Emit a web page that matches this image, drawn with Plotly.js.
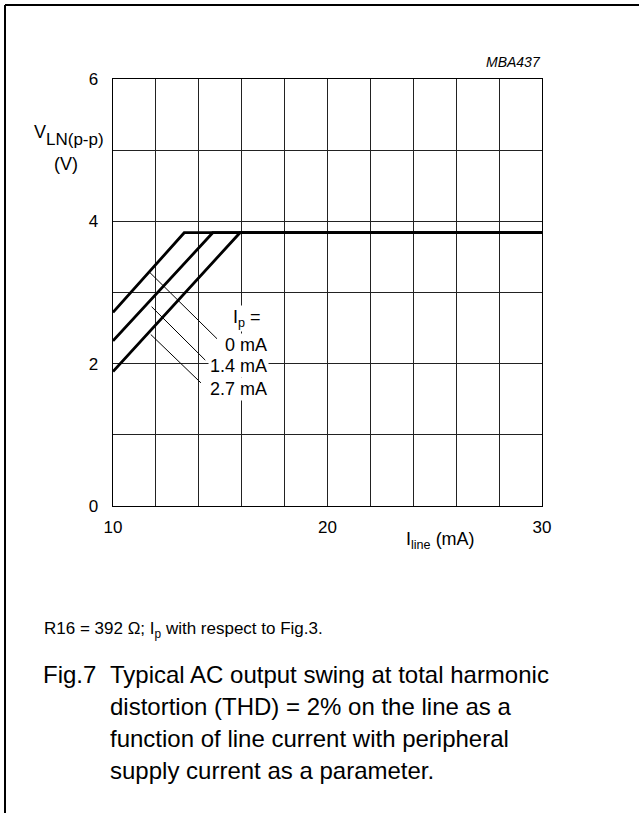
<!DOCTYPE html>
<html>
<head>
<meta charset="utf-8">
<script src="https://cdn.plot.ly/plotly-3.0.1.min.js"></script>
<style>
html,body{margin:0;padding:0;background:#fff;}
#chart{width:639px;height:813px;}
</style>
</head>
<body>
<div id="chart"></div>
<script>
// Data (I_line in mA, V_LN(p-p) in V)
const seriesNames = ["0 mA", "1.4 mA", "2.7 mA"];
const iLine0 = [10, 13.32, 30];
const vln0   = [2.72, 3.84, 3.84];
const iLine1 = [10, 14.65, 30];
const vln1   = [2.32, 3.84, 3.84];
const iLine2 = [10, 15.92, 30];
const vln2   = [1.89, 3.84, 3.84];
const xTickVals = [10, 20, 30];
const xTickText = ["10", "20", "30"];
const yTickVals = [0, 2, 4, 6];
const yTickText = ["0", "2", "4", "6"];

const FONT = "Liberation Sans, Arial, Helvetica, sans-serif";
const INK = "#000";

// layout geometry helpers (pixel -> paper)
const L = 113, R = 542, T = 79, B = 506, W = 639, H = 813;
const px = v => (v - L) / (R - L);
const py = v => (B - v) / (B - T);

const mk = (x, y, name) => ({x: x, y: y, name: name, type: "scatter", mode: "lines",
  line: {color: INK, width: 2.8}, hoverinfo: "skip", showlegend: false});

const traces = [mk(iLine0, vln0, seriesNames[0]), mk(iLine1, vln1, seriesNames[1]), mk(iLine2, vln2, seriesNames[2])];

// leader lines from the curves to their labels
const leaders = [
  [11.72, 3.28, 14.85, 2.35],
  [11.80, 2.80, 14.30, 2.05],
  [11.76, 2.41, 14.10, 1.73]
];

const shapes = leaders.map(l => ({type: "line", xref: "x", yref: "y",
  x0: l[0], y0: l[1], x1: l[2], y1: l[3], line: {color: INK, width: 1}}));
// outer frame (top and left edges)
shapes.push({type: "line", xref: "paper", yref: "paper", x0: px(5), x1: px(645), y0: py(5), y1: py(5), line: {color: INK, width: 2}});
shapes.push({type: "line", xref: "paper", yref: "paper", x0: px(5), x1: px(5), y0: py(5), y1: py(820), line: {color: INK, width: 2}});

const ann = (text, x, y, size, opts) => Object.assign({text: text, x: x, y: y,
  xref: "paper", yref: "paper", showarrow: false, xanchor: "center", yanchor: "middle",
  font: {family: FONT, size: size, color: INK}}, opts || {});

const dataAnn = (text, x, y) => ann(text, x, y, 18,
  {xref: "x", yref: "y", xanchor: "right", bgcolor: "#fff", borderpad: 1});

const annotations = [
  dataAnn("I<sub>p</sub> =", 17.0, 2.64),
  dataAnn(seriesNames[0], 17.28, 2.26),
  dataAnn(seriesNames[1], 17.28, 1.97),
  dataAnn(seriesNames[2], 17.28, 1.65),
  ann("<i>MBA437</i>", px(543), py(62), 14, {xanchor: "right"}),
  ann("V", px(45.5), py(132), 18, {xanchor: "right", borderpad: 0, borderwidth: 0}),
  ann("LN(p-p)", px(104), py(139), 17, {xanchor: "right", borderpad: 0, borderwidth: 0}),
  ann("(V)", px(66), py(164), 18, {}),
  ann("I<sub>line</sub> (mA)", px(440), py(540), 18, {}),
  ann("R16 = 392 Ω; I<sub>p</sub> with respect to Fig.3.", px(42), py(630), 17, {xanchor: "left"}),
  ann("Fig.7", px(41), py(674), 24, {xanchor: "left"}),
  ann("Typical AC output swing at total harmonic", px(108), py(674), 24, {xanchor: "left"}),
  ann("distortion (THD) = 2% on the line as a", px(108), py(706), 24, {xanchor: "left"}),
  ann("function of line current with peripheral", px(108), py(738), 24, {xanchor: "left"}),
  ann("supply current as a parameter.", px(108), py(770), 24, {xanchor: "left"})
];

const layout = {
  width: W, height: H,
  margin: {l: L, r: W - R, t: T, b: H - B, pad: 0},
  paper_bgcolor: "#fff", plot_bgcolor: "#fff",
  font: {family: FONT, size: 16, color: INK},
  showlegend: false,
  xaxis: {range: [10, 30], tickvals: xTickVals, ticktext: xTickText, ticks: "",
    showgrid: true, gridcolor: "#222", gridwidth: 1, zeroline: false,
    showline: true, linecolor: INK, linewidth: 1.3, mirror: true,
    minor: {tick0: 10, dtick: 2, showgrid: true, gridcolor: "#222", gridwidth: 1, ticks: ""},
    ticklabelstandoff: 5, tickfont: {family: FONT, size: 17, color: INK}, fixedrange: true},
  yaxis: {range: [0, 6], tickvals: yTickVals, ticktext: yTickText, ticks: "",
    showgrid: true, gridcolor: "#222", gridwidth: 1, zeroline: false,
    showline: true, linecolor: INK, linewidth: 1.3, mirror: true,
    minor: {tick0: 0, dtick: 1, showgrid: true, gridcolor: "#222", gridwidth: 1, ticks: ""},
    ticklabelstandoff: 10, tickfont: {family: FONT, size: 17, color: INK}, fixedrange: true},
  shapes: shapes,
  annotations: annotations
};

Plotly.newPlot("chart", traces, layout, {displayModeBar: false, staticPlot: true});
</script>
</body>
</html>
